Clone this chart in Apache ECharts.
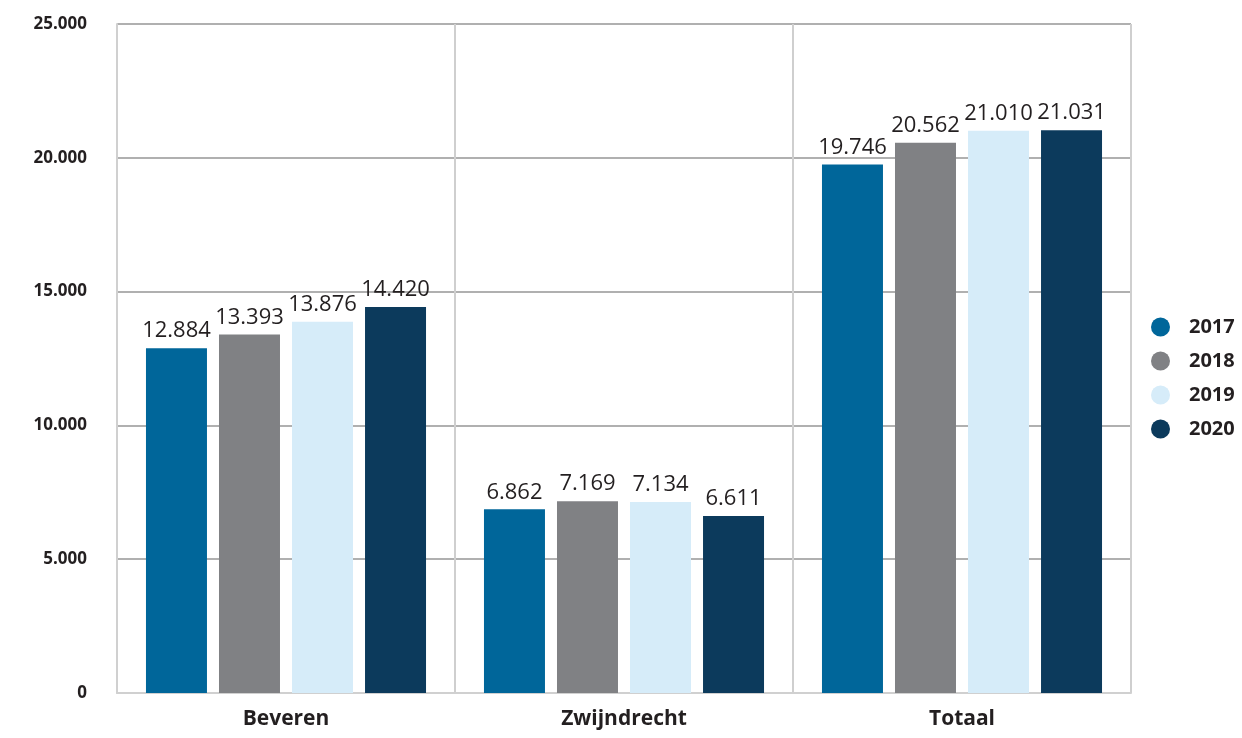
<!DOCTYPE html>
<html>
<head>
<meta charset="utf-8">
<script src="https://cdn.jsdelivr.net/npm/echarts@6/dist/echarts.min.js"></script>
<style>
html,body{margin:0;padding:0;background:#fff;}
#chart{width:1242px;height:738px;}
</style>
</head>
<body>
<div id="chart"></div>
<script>
const categories = ['Beveren', 'Zwijndrecht', 'Totaal'];
const years = ['2017', '2018', '2019', '2020'];
const values2017 = [12884, 6862, 19746];
const values2018 = [13393, 7169, 20562];
const values2019 = [13876, 7134, 21010];
const values2020 = [14420, 6611, 21031];
const yTicks = [0, 5000, 10000, 15000, 20000, 25000];

const colors = ['#00669A', '#808184', '#D6ECF9', '#0C3A5C'];
const seriesValues = [values2017, values2018, values2019, values2020];
const fontFam = '"Open Sans", Lato, sans-serif';
const fmt = v => String(v).replace(/\B(?=(\d{3})+(?!\d))/g, '.');

const chart = echarts.init(document.getElementById('chart'));
chart.setOption({
  animation: false,
  color: colors,
  grid: { left: 117, right: 111, top: 24, bottom: 45, containLabel: false },
  legend: {
    orient: 'vertical',
    left: 1146,
    top: 312,
    itemWidth: 19,
    itemHeight: 19,
    itemGap: 14,
    icon: 'circle',
    textStyle: { fontFamily: fontFam, fontWeight: 'bold', fontSize: 20, color: '#231f20', padding: [0, 0, 0, 14] },
    data: years
  },
  xAxis: {
    type: 'category',
    data: categories,
    axisLine: { show: true, lineStyle: { color: '#d0d0d0', width: 2 } },
    axisTick: { show: false },
    splitLine: { show: true, lineStyle: { color: '#cfcfcf', width: 2 } },
    axisLabel: { fontFamily: fontFam, fontWeight: 'bold', fontSize: 21, color: '#231f20', margin: 16 }
  },
  yAxis: {
    type: 'value',
    min: yTicks[0],
    max: yTicks[yTicks.length - 1],
    interval: 5000,
    axisLine: { show: true, lineStyle: { color: '#d0d0d0', width: 2 } },
    axisTick: { show: false },
    splitLine: { show: true, lineStyle: { color: '#b0b0b0', width: 2 } },
    axisLabel: { fontFamily: fontFam, fontWeight: 'bold', fontSize: 17, color: '#231f20', margin: 30, formatter: v => fmt(v) }
  },
  series: years.map((y, i) => ({
    name: y,
    type: 'bar',
    data: seriesValues[i],
    barWidth: 61,
    barGap: '19.7%',
    itemStyle: { color: colors[i] },
    label: {
      show: true,
      position: 'top',
      distance: 6,
      fontFamily: fontFam,
      fontSize: 22,
      color: '#231f20',
      formatter: p => fmt(p.value)
    }
  }))
});
</script>
</body>
</html>
